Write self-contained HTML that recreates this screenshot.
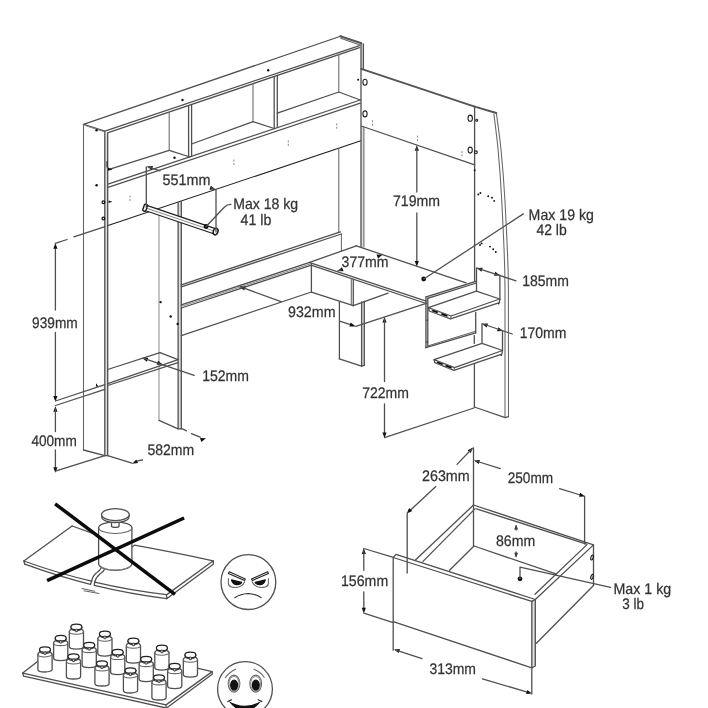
<!DOCTYPE html>
<html><head><meta charset="utf-8"><title>dimensions</title>
<style>
html,body{margin:0;padding:0;background:#fff;}
body{width:708px;height:708px;overflow:hidden;font-family:"Liberation Sans",sans-serif;}
svg{display:block;filter:grayscale(1) blur(.35px);}
svg line,svg path,svg polyline,svg circle,svg ellipse{fill:none;stroke:#505050;stroke-width:1.3;stroke-linecap:round;stroke-linejoin:round;}
svg .g{stroke:#8a8a8a;stroke-width:1;}
svg .lt{stroke:#666;stroke-width:1.05;}
svg .d{stroke:#222;stroke-width:1.1;}
svg .tk{stroke:#2a2a2a;stroke-width:1.5;}
svg .tk2{stroke:#555;stroke-width:2;}
svg .x{stroke:#0c0c0c;stroke-width:3.5;stroke-linecap:butt;}
svg .ah{fill:#111;stroke:none;}
svg .dot{fill:#111;stroke:none;}
svg .w{fill:#fff;}
svg .bk{fill:#111;stroke:#111;}
svg text{font-family:"Liberation Sans",sans-serif;font-size:15.3px;fill:#333;stroke:#333;stroke-width:.25;text-rendering:geometricPrecision;}
</style></head><body>
<svg width="708" height="708" viewBox="0 0 708 708">
<rect x="0" y="0" width="708" height="708" fill="#fff" stroke="none"/>
<g id="unit">
<rect x="104.8" y="133" width="2.9" height="322.7" style="fill:#dedede;stroke:none"/>
<rect x="178.1" y="202.3" width="3.2" height="226.6" style="fill:#dedede;stroke:none"/>
<rect x="361" y="44" width="2.4" height="25.4" style="fill:#dedede;stroke:none"/>
<rect x="361" y="127" width="2.9" height="120.0" style="fill:#dedede;stroke:none"/>
<rect x="361.6" y="302" width="2.7" height="63.8" style="fill:#dedede;stroke:none"/>
<rect x="426" y="298" width="1.8" height="49.2" style="fill:#dedede;stroke:none"/>
<rect x="531.8" y="601" width="3.5" height="66.0" style="fill:#dedede;stroke:none"/>
<polyline points="104.8,131.2 83.5,124.3 341.2,36.0"/>
<line x1="105.6" y1="130.8" x2="359.5" y2="45.6"/>
<line x1="340.3" y1="36.2" x2="361.4" y2="43.3" class="tk2"/>
<line x1="340.6" y1="38.2" x2="360" y2="45" class="lt"/>
<line x1="107.5" y1="132.9" x2="359.5" y2="47.6"/>
<line x1="85.6" y1="125.7" x2="104.4" y2="131.9" class="g"/>
<line x1="83.5" y1="124.3" x2="83.5" y2="450" class="lt"/>
<line x1="104.8" y1="131.2" x2="104.8" y2="455.7"/>
<line x1="107.7" y1="133.6" x2="107.7" y2="455.7"/>
<polyline points="83.5,450 104.8,455.7 107.7,455.7"/>
<line x1="108" y1="184.2" x2="360.3" y2="100"/>
<line x1="108" y1="187.4" x2="360.3" y2="103.2"/>
<line x1="109.2" y1="169.3" x2="169.2" y2="150.3"/>
<line x1="169.2" y1="150.3" x2="190" y2="157"/>
<line x1="169.2" y1="112.5" x2="169.2" y2="150.3" class="lt"/>
<line x1="188.6" y1="106" x2="188.6" y2="157.3"/>
<line x1="191.6" y1="105" x2="191.6" y2="156.3"/>
<line x1="191.6" y1="144" x2="253" y2="121.7"/>
<line x1="253" y1="121.7" x2="274.2" y2="128.5"/>
<line x1="253" y1="83.8" x2="253" y2="121.7" class="lt"/>
<line x1="274.2" y1="76.6" x2="274.2" y2="128.5"/>
<line x1="277.3" y1="75.5" x2="277.3" y2="127.5"/>
<line x1="277.3" y1="113.2" x2="338.8" y2="92"/>
<line x1="338.8" y1="92" x2="360.3" y2="100"/>
<line x1="338.8" y1="54.2" x2="338.8" y2="92" class="lt"/>
<line x1="108" y1="225.6" x2="360.8" y2="140.8" class="d"/>
<line x1="361" y1="43.3" x2="361" y2="246.5"/>
<line x1="363.4" y1="43.8" x2="363.4" y2="69.6"/>
<line x1="363.9" y1="127" x2="363.9" y2="247" class="lt"/>
<line x1="338.8" y1="148.5" x2="338.8" y2="232.7" class="lt"/>
<line x1="341.4" y1="234" x2="341.4" y2="251" class="lt"/>
<line x1="159" y1="209" x2="159" y2="420.4" class="g"/>
<line x1="178.1" y1="202.5" x2="178.1" y2="428.9"/>
<line x1="181.3" y1="201.5" x2="181.3" y2="428.9"/>
<polyline points="159,420.4 178.1,428.9 181.3,428.9"/>
<line x1="361.3" y1="68.9" x2="474.7" y2="106.6" class="tk2"/>
<line x1="361.3" y1="126" x2="474.7" y2="164.9"/>
<line x1="474.6" y1="107" x2="474.6" y2="282.6"/>
<ellipse cx="365" cy="82.3" rx="2.1" ry="3.0" class="d" />
<ellipse cx="365" cy="113.9" rx="2.1" ry="3.0" class="d" />
<circle cx="358.1" cy="79.7" r="1.0" class="dot"/>
<ellipse cx="470.2" cy="118.2" rx="2.2" ry="3.1" class="d" />
<ellipse cx="470.2" cy="150.1" rx="2.1" ry="3.0" class="d" />
<circle cx="476.7" cy="120.2" r="1.0" class="d"/>
<circle cx="475.9" cy="152.3" r="1.4" class="d"/>
<line x1="474.7" y1="106.6" x2="496.3" y2="113" class="tk2"/>
<path d="M493.9,114.1 Q496.6,135 498.1,149.4 Q500.4,175 501.7,200 Q503.4,232 504.2,253 Q505,272 505,290 L505,417.5" class="lt"/>
<path d="M496.4,113.4 Q499.4,135 501,149.4 Q503.5,175 504.9,200 Q506.6,232 507.5,253 Q508.4,272 508.4,290 L508.5,416.6" class="lt"/>
<polyline points="474.3,407 505.2,417.6 508.4,416.6"/>
<line x1="474.4" y1="363.6" x2="474.4" y2="407"/>
<line x1="181.3" y1="284.8" x2="340.4" y2="231.8"/>
<line x1="181.3" y1="286.9" x2="341.4" y2="234"/>
<line x1="181.3" y1="304.9" x2="309.7" y2="262.4"/>
<line x1="181.3" y1="308" x2="311.4" y2="265.2"/>
<line x1="181.3" y1="306.4" x2="310.6" y2="263.8" class="g"/>
<line x1="181.3" y1="335.6" x2="311.4" y2="292"/>
<line x1="356.3" y1="245.8" x2="309.7" y2="262.4"/>
<line x1="356.3" y1="245.8" x2="466" y2="282.8"/>
<line x1="309.8" y1="262.6" x2="426.2" y2="301.2"/>
<line x1="311.8" y1="265.4" x2="426.2" y2="303.5"/>
<line x1="311.4" y1="264" x2="311.4" y2="292"/>
<line x1="311.4" y1="292.2" x2="353.3" y2="305.7"/>
<line x1="353.3" y1="279.5" x2="353.3" y2="305.7"/>
<line x1="351.3" y1="278.8" x2="351.3" y2="305" class="lt"/>
<line x1="353.3" y1="305.7" x2="388" y2="293.2"/>
<line x1="339.4" y1="302" x2="339.4" y2="358.8"/>
<polyline points="339.3,358.8 361.6,366.2 364.3,365.4"/>
<line x1="361.6" y1="302" x2="361.6" y2="366.2"/>
<line x1="364.3" y1="301.2" x2="364.3" y2="365.4"/>
<polygon points="426.2,296.8 475.7,281.3 476.4,283 427.7,298.4" style="fill:#ddd;stroke:none"/>
<line x1="426.2" y1="296.8" x2="475.7" y2="281.3"/>
<line x1="427.7" y1="298.4" x2="476.4" y2="283"/>
<line x1="425.9" y1="296.8" x2="425.9" y2="347.7"/>
<line x1="427.8" y1="298.4" x2="427.8" y2="346.6"/>
<line x1="425.9" y1="347.7" x2="475.7" y2="332.9"/>
<line x1="427.8" y1="346" x2="475.7" y2="331.2" class="lt"/>
<line x1="475.7" y1="312.5" x2="475.7" y2="332.9"/>
<circle cx="427" cy="320.1" r="0.7" class="dot"/>
<circle cx="427" cy="342" r="0.7" class="dot"/>
<line x1="476.5" y1="268" x2="476.5" y2="291.2"/>
<line x1="499.9" y1="275.2" x2="499.9" y2="299.4"/>
<path d="M428.4,307.6 L476.4,291.2 L499.7,299 L451,316 Z"/>
<path d="M428.6,308 L429.2,311 L450.4,318.8 L499.4,302.6 L499.7,299.2"/>
<line x1="451" y1="316" x2="450.6" y2="318.8" class="lt"/>
<rect x="-3.2" y="-1.1" width="6.4" height="2.2" rx="1" style="stroke:#999;stroke-width:.6" transform="translate(435,311.4) rotate(19.5)"/>
<rect x="-3.4" y="-1.2" width="6.8" height="2.4" rx="1" style="stroke:#999;stroke-width:.6" transform="translate(444.4,314.9) rotate(19.5)"/>
<circle cx="498.7" cy="303.8" r="0.7" class="dot"/>
<line x1="482" y1="323.7" x2="482" y2="343.4"/>
<line x1="502.5" y1="330.7" x2="502.5" y2="350.5"/>
<path d="M434,359.7 L482,343.4 L502.5,350.5 L454.5,367.6 Z"/>
<path d="M434.1,360 L434.8,362.7 L453.9,370.3 L501.9,354.2 L502.4,350.7"/>
<line x1="454.5" y1="367.6" x2="454" y2="370.3" class="lt"/>
<rect x="-3.2" y="-1.1" width="6.4" height="2.2" rx="1" style="stroke:#999;stroke-width:.6" transform="translate(440,363.3) rotate(20)"/>
<rect x="-3.4" y="-1.2" width="6.8" height="2.4" rx="1" style="stroke:#999;stroke-width:.6" transform="translate(448.6,366.6) rotate(20)"/>
<circle cx="501.2" cy="355.4" r="0.7" class="dot"/>
<line x1="474.3" y1="335.7" x2="474.3" y2="343.4"/>
<line x1="107.7" y1="369.5" x2="160" y2="352.6"/>
<line x1="160" y1="352.6" x2="178.1" y2="359.7"/>
<line x1="107.7" y1="383.7" x2="178.1" y2="359.7"/>
<line x1="107.7" y1="385.5" x2="178.1" y2="362.6"/>
<g transform="translate(144.2,207.4) rotate(18.7)">
<rect x="0" y="-2.7" width="76" height="5.4" rx="1" class="w" style="stroke:#222;stroke-width:1.25"/>
<line x1="2" y1="0" x2="74" y2="0" class="g"/>
<rect x="-0.6" y="-3.5" width="3.2" height="7" rx="1" class="w" style="stroke:#1a1a1a;stroke-width:1.4"/>
<ellipse cx="75.4" cy="0" rx="2.3" ry="3.4" class="w" style="stroke:#1a1a1a;stroke-width:1.5"/>
</g>
<circle cx="160.6" cy="302.1" r="1.2" class="dot"/>
<circle cx="170.7" cy="316.5" r="1.2" class="dot"/>
<circle cx="177.7" cy="323.9" r="1.2" class="dot"/>
<circle cx="96.6" cy="185.3" r="1.2" class="dot"/>
<circle cx="96.5" cy="130.3" r="1.2" class="dot"/>
<circle cx="268.2" cy="70.2" r="1.2" class="dot"/>
<circle cx="182.5" cy="100" r="1.2" class="dot"/>
<circle cx="174.5" cy="157.8" r="1.2" class="dot"/>
<circle cx="103.4" cy="202.3" r="1.4" style="stroke:#111;stroke-width:1.2"/>
<circle cx="103.4" cy="218.5" r="1.4" style="stroke:#111;stroke-width:1.2"/>
<polygon class="ah" points="96.2,383.2 98.6,386.8 95.8,386.6"/>
<polygon class="ah" points="108,167.6 112.6,169.4 108,170.8"/>
<line x1="107" y1="161.5" x2="107" y2="167" class="d"/>
<polygon class="ah" points="108.6,200.6 112.4,201.8 108.6,203"/>
<line x1="233.9" y1="160" x2="233.9" y2="166" class="g" stroke-dasharray="1.2 2.2"/>
<line x1="288.3" y1="140.8" x2="288.3" y2="147" class="g" stroke-dasharray="1.2 2.2"/>
<line x1="336.7" y1="123.8" x2="336.7" y2="130" class="g" stroke-dasharray="1.2 2.2"/>
<line x1="372.5" y1="120.6" x2="372.5" y2="126" class="g" stroke-dasharray="1.2 2.2"/>
<line x1="417.5" y1="136" x2="417.5" y2="141.8" class="g" stroke-dasharray="1.2 2.2"/>
<line x1="462" y1="151.4" x2="462" y2="156.7" class="g" stroke-dasharray="1.2 2.2"/>
<line x1="130" y1="196" x2="130" y2="202" class="g" stroke-dasharray="1.2 2.2"/>
<circle cx="474.7" cy="170.2" r="0.95" class="dot"/>
<circle cx="478.3" cy="194.5" r="0.95" class="dot"/>
<circle cx="480.4" cy="193" r="0.95" class="dot"/>
<circle cx="488.2" cy="196.2" r="0.95" class="dot"/>
<circle cx="492" cy="197.7" r="0.95" class="dot"/>
<circle cx="494.2" cy="200.9" r="0.95" class="dot"/>
<circle cx="480" cy="245" r="0.95" class="dot"/>
<circle cx="481.6" cy="243.4" r="0.95" class="dot"/>
<circle cx="490" cy="246.6" r="0.95" class="dot"/>
<circle cx="493.2" cy="249.2" r="0.95" class="dot"/>
<circle cx="495.8" cy="252" r="0.95" class="dot"/>
</g>
<g id="dims">
<line x1="55.4" y1="246" x2="55.4" y2="310"/>
<polygon class="ah" points="55.4,243.2 57.5,248.8 53.3,248.8"/>
<line x1="55.4" y1="332.4" x2="55.4" y2="399"/>
<polygon class="ah" points="55.4,401.6 53.3,396.0 57.5,396.0"/>
<text x="32.1" y="328.2" textLength="45.6" lengthAdjust="spacingAndGlyphs">939mm</text>
<line x1="55.2" y1="243.3" x2="67.1" y2="239.5"/>
<line x1="73.9" y1="236.9" x2="105" y2="226.6"/>
<polygon class="ah" points="55.4,406.2 57.5,411.8 53.3,411.8"/>
<line x1="55.4" y1="409" x2="55.4" y2="431.5"/>
<line x1="55.4" y1="450" x2="55.4" y2="470"/>
<polygon class="ah" points="55.4,472.8 53.3,467.2 57.5,467.2"/>
<text x="31.4" y="446.4" textLength="45.4" lengthAdjust="spacingAndGlyphs">400mm</text>
<line x1="55.5" y1="401" x2="104.8" y2="384.6"/>
<line x1="55.5" y1="405.5" x2="104.8" y2="389.3"/>
<line x1="55.4" y1="471.2" x2="104.8" y2="455.7"/>
<line x1="107.7" y1="455.7" x2="132" y2="463.1"/>
<polygon class="ah" points="132.2,463.8 136.2,459.4 138.1,463.1"/>
<line x1="137.5" y1="460.9" x2="142.4" y2="460"/>
<text x="147.4" y="455.2" textLength="46.7" lengthAdjust="spacingAndGlyphs">582mm</text>
<line x1="182.5" y1="428.9" x2="186.5" y2="430.8"/>
<line x1="191.5" y1="433.6" x2="200.2" y2="437.2"/>
<polygon class="ah" points="206.0,438.3 201.3,441.9 200.0,437.9"/>
<polygon class="ah" points="142.2,358.0 148.2,357.8 146.8,361.8"/>
<polygon class="ah" points="162.6,364.6 156.6,364.8 158.0,360.8"/>
<line x1="143" y1="358.2" x2="194.2" y2="375.3"/>
<text x="202.2" y="381" textLength="46.8" lengthAdjust="spacingAndGlyphs">152mm</text>
<line x1="146.3" y1="167" x2="146.3" y2="207.5"/>
<line x1="216" y1="189.5" x2="216" y2="232"/>
<polygon class="ah" points="147.0,166.4 153.0,166.1 151.7,170.1"/>
<polygon class="ah" points="215.5,189.4 209.5,189.7 210.8,185.7"/>
<line x1="148" y1="166.8" x2="160" y2="170.8"/>
<line x1="211.5" y1="188" x2="214" y2="188.9"/>
<text x="162.6" y="184.9" textLength="48" lengthAdjust="spacingAndGlyphs">551mm</text>
<circle cx="206.1" cy="226.5" r="2.4" class="dot"/>
<path d="M206.1,226.5 L224.5,207 Q227,204.3 231,204.3"/>
<text x="233.2" y="209.1" textLength="65" lengthAdjust="spacingAndGlyphs">Max 18 kg</text>
<text x="240.6" y="224.6" textLength="30.8" lengthAdjust="spacingAndGlyphs">41 lb</text>
<polygon class="ah" points="239.6,286.5 245.6,286.4 244.1,290.4"/>
<line x1="240" y1="286.7" x2="281" y2="301.7"/>
<text x="288" y="316.8" textLength="47.5" lengthAdjust="spacingAndGlyphs">932mm</text>
<line x1="340.4" y1="321.3" x2="352" y2="325.1"/>
<polygon class="ah" points="355.8,326.4 349.4,326.5 350.7,322.5"/>
<line x1="355.8" y1="326.3" x2="426.2" y2="303.3"/>
<polygon class="ah" points="337.5,271.1 342.0,267.2 343.5,271.2"/>
<polygon class="ah" points="382.5,254.7 378.0,258.6 376.5,254.6"/>
<line x1="338" y1="270.9" x2="341" y2="269.8"/>
<text x="341.6" y="266.5" textLength="47" lengthAdjust="spacingAndGlyphs">377mm</text>
<polygon class="ah" points="416.8,145.2 418.9,150.8 414.7,150.8"/>
<line x1="416.8" y1="148" x2="416.8" y2="192"/>
<text x="393" y="206" textLength="47" lengthAdjust="spacingAndGlyphs">719mm</text>
<line x1="416.8" y1="213" x2="416.8" y2="264"/>
<polygon class="ah" points="416.8,266.6 414.7,261.0 418.9,261.0"/>
<polygon class="ah" points="384.5,317.0 386.6,322.6 382.4,322.6"/>
<line x1="384.5" y1="319" x2="384.5" y2="381.6"/>
<text x="362.2" y="397.9" textLength="46.7" lengthAdjust="spacingAndGlyphs">722mm</text>
<line x1="384.5" y1="403.8" x2="384.5" y2="435"/>
<polygon class="ah" points="384.5,438.0 382.4,432.4 386.6,432.4"/>
<line x1="384.5" y1="437.7" x2="473.9" y2="408"/>
<circle cx="423.7" cy="279" r="2.4" class="dot"/>
<line x1="423.7" y1="279" x2="523.3" y2="213.9"/>
<text x="528.6" y="219.8" textLength="65.3" lengthAdjust="spacingAndGlyphs">Max 19 kg</text>
<text x="536.4" y="235.1" textLength="30.3" lengthAdjust="spacingAndGlyphs">42 lb</text>
<polygon class="ah" points="476.7,268.0 482.7,267.7 481.4,271.7"/>
<polygon class="ah" points="500.0,275.4 494.0,275.7 495.3,271.7"/>
<line x1="477" y1="268.1" x2="516" y2="280.8"/>
<text x="522.2" y="286" textLength="46.7" lengthAdjust="spacingAndGlyphs">185mm</text>
<polygon class="ah" points="482.0,323.7 488.0,323.5 486.6,327.5"/>
<polygon class="ah" points="503.0,331.0 497.0,331.2 498.4,327.2"/>
<line x1="483" y1="324" x2="512.3" y2="334"/>
<text x="519.7" y="338.1" textLength="46.7" lengthAdjust="spacingAndGlyphs">170mm</text>
</g>
<g id="drawer">
<line x1="473.5" y1="448" x2="473.5" y2="546"/>
<line x1="473.5" y1="505" x2="593.5" y2="544.9"/>
<line x1="476.5" y1="508.8" x2="586.5" y2="544.2"/>
<line x1="473.5" y1="505" x2="415.7" y2="559.7"/>
<line x1="475.2" y1="508.6" x2="423" y2="561.4"/>
<line x1="474" y1="546" x2="449.6" y2="570.3"/>
<line x1="474" y1="546" x2="556.6" y2="574.2"/>
<line x1="587" y1="544.6" x2="535" y2="594.2"/>
<polyline points="396,554.4 535.3,599.5 535.3,666 531.8,667.8 393.2,621.6 393.2,557.5 396,554.4"/>
<line x1="393.2" y1="557.5" x2="531.8" y2="601.4"/>
<line x1="531.8" y1="601.4" x2="531.8" y2="667.8"/>
<line x1="531.8" y1="601.4" x2="535.3" y2="599.5"/>
<line x1="535.3" y1="599.5" x2="593.5" y2="544.9"/>
<line x1="536.4" y1="643.3" x2="593.5" y2="585.5"/>
<line x1="593.5" y1="544.9" x2="593.5" y2="585.5"/>
<ellipse cx="592" cy="557.5" rx="1.1" ry="2.6" transform="rotate(15 592 557.5)" style="stroke:#111;stroke-width:1.1"/>
<ellipse cx="592" cy="576.8" rx="1.1" ry="2.6" transform="rotate(15 592 576.8)" style="stroke:#111;stroke-width:1.1"/>
<polygon class="ah" points="473.0,447.6 470.7,453.1 467.6,450.3"/>
<line x1="472" y1="448.8" x2="457" y2="464.4"/>
<text x="422" y="480.7" textLength="47.7" lengthAdjust="spacingAndGlyphs">263mm</text>
<line x1="435.8" y1="486.6" x2="409" y2="511.4"/>
<polygon class="ah" points="406.8,513.6 409.1,508.1 412.2,510.9"/>
<line x1="407.2" y1="513.1" x2="407.2" y2="573"/>
<polygon class="ah" points="474.0,460.4 480.0,460.0 478.7,464.0"/>
<line x1="476" y1="461" x2="500.3" y2="468.6"/>
<text x="507.7" y="483.4" textLength="45.5" lengthAdjust="spacingAndGlyphs">250mm</text>
<line x1="559.6" y1="488.7" x2="582" y2="495.5"/>
<polygon class="ah" points="585.0,496.4 579.0,496.8 580.3,492.8"/>
<line x1="584.6" y1="496.1" x2="584.6" y2="543.8"/>
<polygon class="ah" points="516.1,524.5 517.9,529.5 514.3,529.5"/>
<line x1="516.1" y1="526" x2="516.1" y2="530"/>
<polygon class="ah" points="516.1,557.8 514.3,552.8 517.9,552.8"/>
<line x1="516.1" y1="552" x2="516.1" y2="556"/>
<text x="496" y="545.9" textLength="39.2" lengthAdjust="spacingAndGlyphs">86mm</text>
<circle cx="520" cy="578.8" r="2.4" class="dot"/>
<polyline points="520,578.8 520,567.1 610.6,587.3"/>
<text x="613.4" y="594.3" textLength="57.8" lengthAdjust="spacingAndGlyphs">Max 1 kg</text>
<text x="622.2" y="609.4" textLength="21.7" lengthAdjust="spacingAndGlyphs">3 lb</text>
<polygon class="ah" points="363.8,548.3 365.9,553.9 361.7,553.9"/>
<line x1="363.8" y1="550" x2="363.8" y2="570.3"/>
<line x1="363.8" y1="592" x2="363.8" y2="611"/>
<polygon class="ah" points="363.8,613.3 361.7,607.7 365.9,607.7"/>
<line x1="363.8" y1="548.5" x2="392.5" y2="557.2"/>
<line x1="363.8" y1="613.1" x2="392.5" y2="622.4"/>
<text x="341" y="586" textLength="47.2" lengthAdjust="spacingAndGlyphs">156mm</text>
<line x1="393.2" y1="621.6" x2="393.2" y2="650.2"/>
<polygon class="ah" points="394.0,649.5 400.0,649.1 398.7,653.1"/>
<line x1="396" y1="650.2" x2="422" y2="658.6"/>
<text x="429.4" y="673.5" textLength="46.6" lengthAdjust="spacingAndGlyphs">313mm</text>
<line x1="482.4" y1="678.8" x2="529" y2="692.6"/>
<polygon class="ah" points="532.0,693.5 526.0,693.9 527.3,689.9"/>
<line x1="531.8" y1="667.8" x2="531.8" y2="694.1"/>
</g>
<g id="broken">
<path d="M72.1,526 L23.8,561 L24.8,564.2"/>
<path d="M72.1,526 L99,535.6"/>
<path d="M23.8,561 Q60,574 91.6,581.1"/>
<path d="M24.8,564.2 Q60,577 90.5,584.3"/>
<path d="M91.6,581.1 L90.5,584.3"/>
<path d="M91.6,581.1 Q93,575 97,572.5 Q100,570.5 101.1,568"/>
<path d="M94.7,582.2 Q96,577 100,574 Q103.5,572 104.3,569.5"/>
<path d="M94.7,582.2 Q130,590.5 166.5,594.7"/>
<path d="M94.3,585.4 Q130,594 166.7,598.7"/>
<path d="M94.7,582.2 L94.3,585.2"/>
<path d="M166.5,594.9 L213.3,560.8 L213.3,564.2 L166.7,598.7 Z"/>
<path d="M131.9,547 L134.5,545.2 Q172,552 213.1,560.8"/>
<line x1="82" y1="588.5" x2="94.7" y2="591.3" class="lt"/>
<line x1="84" y1="590.8" x2="99" y2="593.6" class="lt"/>
<path d="M98.6,527.7 L98.6,563.4 A16.65,7 0 0 0 131.9,563.4 L131.9,527.7 A16.65,5.9 0 0 0 98.6,527.7 Z" class="w"/>
<path d="M98.6,527.7 A16.65,5.9 0 0 0 131.9,527.7" class="lt"/>
<path d="M100.6,566.3 A16.65,7 0 0 0 130,566.3" class="g"/>
<path d="M111.5,521 L111.5,526 A3.8,1.4 0 0 0 119.1,526 L119.1,521" class="w"/>
<path d="M101.6,514.8 L101.9,517.6 A13.6,5.6 0 0 0 128.9,517.6 L129.2,514.8" class="w"/>
<ellipse cx="115.4" cy="514.6" rx="13.85" ry="6.0" class="w" />
<line x1="55.1" y1="503.8" x2="175" y2="594.3" class="x"/>
<line x1="47.1" y1="580.7" x2="184.1" y2="518" class="x"/>
</g>
<g id="angry">
<circle cx="248.4" cy="582.1" r="27.4"/>
<path d="M228.4,578.4 L228.4,583.4 Q228.6,586.3 231.5,587 Q236,588.2 240,586.6 Q243.6,584.8 244.7,581.8" class="lt"/>
<path d="M231.6,580.0 Q236,581.2 241.6,582.3 Q240.6,584.8 236.4,584.6 Q232.4,584.2 231.6,580.0 Z" class="bk"/>
<path d="M229.2,571.7 L245.3,579 L244.5,580.6 L228.4,573.4 Z" class="d"/>
<path d="M268.4,578.4 L268.4,583.4 Q268.2,586.3 265.3,587 Q260.8,588.2 256.8,586.6 Q253.2,584.8 252.1,581.8" class="lt"/>
<path d="M265.2,580.0 Q260.8,581.2 255.2,582.3 Q256.2,584.8 260.4,584.6 Q264.4,584.2 265.2,580.0 Z" class="bk"/>
<path d="M267.6,571.7 L251.5,579 L252.3,580.6 L268.4,573.4 Z" class="d"/>
<path d="M234.8,597.6 Q241,593.8 248.2,593.5 Q255.6,593.8 261.2,597.6" class="d"/>
</g>
<g id="good">
<path d="M22.7,673.1 L37.5,661.4"/>
<path d="M22.7,673.1 L166,704.9 L212.2,671.6 L195,667.6"/>
<path d="M22.7,673.1 L23.6,676.2 L166,708"/>
<path d="M212.2,671.6 L212.2,674.3 L166.6,708"/>
<line x1="166" y1="704.9" x2="166" y2="708"/>
<path class="w" d="M69.3,631.5 L69.3,646.6 A7.1,2.6 0 0 0 83.5,646.6 L83.5,631.5 A7.1,2.7 0 0 0 69.3,631.5 Z"/>
<path class="lt" d="M69.3,631.5 A7.1,2.7 0 0 0 83.5,631.5"/>
<path class="w" d="M71.0,626.9 L71.2,628.1 A5.2,2.5 0 0 0 81.6,628.1 L81.8,626.9"/>
<ellipse class="w" cx="76.4" cy="626.9" rx="5.5" ry="2.8" style="stroke:#222;stroke-width:1.25"/>
<rect x="75.3" y="629.1" width="2.2" height="2.6" rx=".5" style="fill:#ccc;stroke:#333;stroke-width:.9"/>
<path class="w" d="M97.8,638.5 L97.8,653.6 A7.1,2.6 0 0 0 112.0,653.6 L112.0,638.5 A7.1,2.7 0 0 0 97.8,638.5 Z"/>
<path class="lt" d="M97.8,638.5 A7.1,2.7 0 0 0 112.0,638.5"/>
<path class="w" d="M99.5,633.9 L99.7,635.1 A5.2,2.5 0 0 0 110.1,635.1 L110.3,633.9"/>
<ellipse class="w" cx="104.9" cy="633.9" rx="5.5" ry="2.8" style="stroke:#222;stroke-width:1.25"/>
<rect x="103.8" y="636.1" width="2.2" height="2.6" rx=".5" style="fill:#ccc;stroke:#333;stroke-width:.9"/>
<path class="w" d="M126.3,645.5 L126.3,660.6 A7.1,2.6 0 0 0 140.5,660.6 L140.5,645.5 A7.1,2.7 0 0 0 126.3,645.5 Z"/>
<path class="lt" d="M126.3,645.5 A7.1,2.7 0 0 0 140.5,645.5"/>
<path class="w" d="M128.0,640.9 L128.2,642.1 A5.2,2.5 0 0 0 138.6,642.1 L138.8,640.9"/>
<ellipse class="w" cx="133.4" cy="640.9" rx="5.5" ry="2.8" style="stroke:#222;stroke-width:1.25"/>
<rect x="132.3" y="643.1" width="2.2" height="2.6" rx=".5" style="fill:#ccc;stroke:#333;stroke-width:.9"/>
<path class="w" d="M154.8,652.5 L154.8,667.6 A7.1,2.6 0 0 0 169.0,667.6 L169.0,652.5 A7.1,2.7 0 0 0 154.8,652.5 Z"/>
<path class="lt" d="M154.8,652.5 A7.1,2.7 0 0 0 169.0,652.5"/>
<path class="w" d="M156.5,647.9 L156.7,649.1 A5.2,2.5 0 0 0 167.1,649.1 L167.3,647.9"/>
<ellipse class="w" cx="161.9" cy="647.9" rx="5.5" ry="2.8" style="stroke:#222;stroke-width:1.25"/>
<rect x="160.8" y="650.1" width="2.2" height="2.6" rx=".5" style="fill:#ccc;stroke:#333;stroke-width:.9"/>
<path class="w" d="M183.3,659.5 L183.3,674.6 A7.1,2.6 0 0 0 197.5,674.6 L197.5,659.5 A7.1,2.7 0 0 0 183.3,659.5 Z"/>
<path class="lt" d="M183.3,659.5 A7.1,2.7 0 0 0 197.5,659.5"/>
<path class="w" d="M185.0,654.9 L185.2,656.1 A5.2,2.5 0 0 0 195.6,656.1 L195.8,654.9"/>
<ellipse class="w" cx="190.4" cy="654.9" rx="5.5" ry="2.8" style="stroke:#222;stroke-width:1.25"/>
<rect x="189.3" y="657.1" width="2.2" height="2.6" rx=".5" style="fill:#ccc;stroke:#333;stroke-width:.9"/>
<path class="w" d="M53.6,642.9 L53.6,658.0 A7.1,2.6 0 0 0 67.8,658.0 L67.8,642.9 A7.1,2.7 0 0 0 53.6,642.9 Z"/>
<path class="lt" d="M53.6,642.9 A7.1,2.7 0 0 0 67.8,642.9"/>
<path class="w" d="M55.3,638.2 L55.5,639.5 A5.2,2.5 0 0 0 65.9,639.5 L66.1,638.2"/>
<ellipse class="w" cx="60.7" cy="638.2" rx="5.5" ry="2.8" style="stroke:#222;stroke-width:1.25"/>
<rect x="59.6" y="640.5" width="2.2" height="2.6" rx=".5" style="fill:#ccc;stroke:#333;stroke-width:.9"/>
<path class="w" d="M82.1,649.9 L82.1,665.0 A7.1,2.6 0 0 0 96.3,665.0 L96.3,649.9 A7.1,2.7 0 0 0 82.1,649.9 Z"/>
<path class="lt" d="M82.1,649.9 A7.1,2.7 0 0 0 96.3,649.9"/>
<path class="w" d="M83.8,645.2 L84.0,646.5 A5.2,2.5 0 0 0 94.4,646.5 L94.6,645.2"/>
<ellipse class="w" cx="89.2" cy="645.2" rx="5.5" ry="2.8" style="stroke:#222;stroke-width:1.25"/>
<rect x="88.1" y="647.5" width="2.2" height="2.6" rx=".5" style="fill:#ccc;stroke:#333;stroke-width:.9"/>
<path class="w" d="M110.6,656.9 L110.6,672.0 A7.1,2.6 0 0 0 124.8,672.0 L124.8,656.9 A7.1,2.7 0 0 0 110.6,656.9 Z"/>
<path class="lt" d="M110.6,656.9 A7.1,2.7 0 0 0 124.8,656.9"/>
<path class="w" d="M112.3,652.2 L112.5,653.5 A5.2,2.5 0 0 0 122.9,653.5 L123.1,652.2"/>
<ellipse class="w" cx="117.7" cy="652.2" rx="5.5" ry="2.8" style="stroke:#222;stroke-width:1.25"/>
<rect x="116.6" y="654.5" width="2.2" height="2.6" rx=".5" style="fill:#ccc;stroke:#333;stroke-width:.9"/>
<path class="w" d="M139.1,663.9 L139.1,679.0 A7.1,2.6 0 0 0 153.3,679.0 L153.3,663.9 A7.1,2.7 0 0 0 139.1,663.9 Z"/>
<path class="lt" d="M139.1,663.9 A7.1,2.7 0 0 0 153.3,663.9"/>
<path class="w" d="M140.8,659.2 L141.0,660.5 A5.2,2.5 0 0 0 151.4,660.5 L151.6,659.2"/>
<ellipse class="w" cx="146.2" cy="659.2" rx="5.5" ry="2.8" style="stroke:#222;stroke-width:1.25"/>
<rect x="145.1" y="661.5" width="2.2" height="2.6" rx=".5" style="fill:#ccc;stroke:#333;stroke-width:.9"/>
<path class="w" d="M167.6,670.9 L167.6,686.0 A7.1,2.6 0 0 0 181.8,686.0 L181.8,670.9 A7.1,2.7 0 0 0 167.6,670.9 Z"/>
<path class="lt" d="M167.6,670.9 A7.1,2.7 0 0 0 181.8,670.9"/>
<path class="w" d="M169.3,666.2 L169.5,667.5 A5.2,2.5 0 0 0 179.9,667.5 L180.1,666.2"/>
<ellipse class="w" cx="174.7" cy="666.2" rx="5.5" ry="2.8" style="stroke:#222;stroke-width:1.25"/>
<rect x="173.6" y="668.5" width="2.2" height="2.6" rx=".5" style="fill:#ccc;stroke:#333;stroke-width:.9"/>
<path class="w" d="M37.9,654.2 L37.9,669.4 A7.1,2.6 0 0 0 52.1,669.4 L52.1,654.2 A7.1,2.7 0 0 0 37.9,654.2 Z"/>
<path class="lt" d="M37.9,654.2 A7.1,2.7 0 0 0 52.1,654.2"/>
<path class="w" d="M39.6,649.6 L39.8,650.9 A5.2,2.5 0 0 0 50.2,650.9 L50.4,649.6"/>
<ellipse class="w" cx="45.0" cy="649.6" rx="5.5" ry="2.8" style="stroke:#222;stroke-width:1.25"/>
<rect x="43.9" y="651.9" width="2.2" height="2.6" rx=".5" style="fill:#ccc;stroke:#333;stroke-width:.9"/>
<path class="w" d="M66.4,661.2 L66.4,676.4 A7.1,2.6 0 0 0 80.6,676.4 L80.6,661.2 A7.1,2.7 0 0 0 66.4,661.2 Z"/>
<path class="lt" d="M66.4,661.2 A7.1,2.7 0 0 0 80.6,661.2"/>
<path class="w" d="M68.1,656.6 L68.3,657.9 A5.2,2.5 0 0 0 78.7,657.9 L78.9,656.6"/>
<ellipse class="w" cx="73.5" cy="656.6" rx="5.5" ry="2.8" style="stroke:#222;stroke-width:1.25"/>
<rect x="72.4" y="658.9" width="2.2" height="2.6" rx=".5" style="fill:#ccc;stroke:#333;stroke-width:.9"/>
<path class="w" d="M94.9,668.2 L94.9,683.4 A7.1,2.6 0 0 0 109.1,683.4 L109.1,668.2 A7.1,2.7 0 0 0 94.9,668.2 Z"/>
<path class="lt" d="M94.9,668.2 A7.1,2.7 0 0 0 109.1,668.2"/>
<path class="w" d="M96.6,663.6 L96.8,664.9 A5.2,2.5 0 0 0 107.2,664.9 L107.4,663.6"/>
<ellipse class="w" cx="102.0" cy="663.6" rx="5.5" ry="2.8" style="stroke:#222;stroke-width:1.25"/>
<rect x="100.9" y="665.9" width="2.2" height="2.6" rx=".5" style="fill:#ccc;stroke:#333;stroke-width:.9"/>
<path class="w" d="M123.4,675.2 L123.4,690.4 A7.1,2.6 0 0 0 137.6,690.4 L137.6,675.2 A7.1,2.7 0 0 0 123.4,675.2 Z"/>
<path class="lt" d="M123.4,675.2 A7.1,2.7 0 0 0 137.6,675.2"/>
<path class="w" d="M125.1,670.6 L125.3,671.9 A5.2,2.5 0 0 0 135.7,671.9 L135.9,670.6"/>
<ellipse class="w" cx="130.5" cy="670.6" rx="5.5" ry="2.8" style="stroke:#222;stroke-width:1.25"/>
<rect x="129.4" y="672.9" width="2.2" height="2.6" rx=".5" style="fill:#ccc;stroke:#333;stroke-width:.9"/>
<path class="w" d="M151.9,682.2 L151.9,697.4 A7.1,2.6 0 0 0 166.1,697.4 L166.1,682.2 A7.1,2.7 0 0 0 151.9,682.2 Z"/>
<path class="lt" d="M151.9,682.2 A7.1,2.7 0 0 0 166.1,682.2"/>
<path class="w" d="M153.6,677.6 L153.8,678.9 A5.2,2.5 0 0 0 164.2,678.9 L164.4,677.6"/>
<ellipse class="w" cx="159.0" cy="677.6" rx="5.5" ry="2.8" style="stroke:#222;stroke-width:1.25"/>
<rect x="157.9" y="679.9" width="2.2" height="2.6" rx=".5" style="fill:#ccc;stroke:#333;stroke-width:.9"/>
</g>
<g id="happy">
<circle cx="245" cy="689" r="27.4"/>
<ellipse cx="234.0" cy="683.6" rx="5.9" ry="8.5" class="lt" />
<ellipse cx="234.0" cy="683.8" rx="5.0" ry="7.4" class="g" />
<ellipse cx="234.1" cy="685.1" rx="3.4" ry="4.9" class="bk" />
<ellipse cx="255.7" cy="683.6" rx="5.9" ry="8.5" class="lt" />
<ellipse cx="255.7" cy="683.8" rx="5.0" ry="7.4" class="g" />
<ellipse cx="255.79999999999998" cy="685.1" rx="3.4" ry="4.9" class="bk" />
<path d="M225.3,677.7 Q229.5,672 235.7,669.3" class="lt"/>
<path d="M254,669.3 Q260.4,671.8 264.2,677.2" class="lt"/>
<path d="M228.5,701 Q244.8,710.4 261.2,701 Q244.8,722 228.5,701 Z" style="fill:#111;stroke:none"/>
<path d="M227.8,701.6 L231.6,699.8" class="d"/>
<path d="M261.9,701.6 L258.1,699.8" class="d"/>
</g>
</svg>
</body></html>
